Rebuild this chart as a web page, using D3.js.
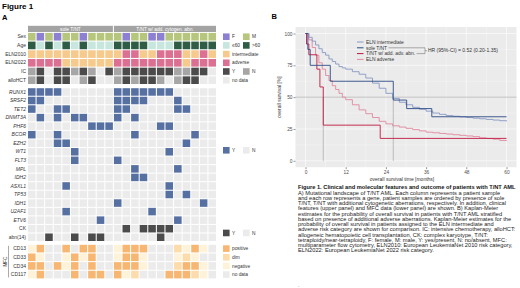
<!DOCTYPE html>
<html lang="en">
<head>
<meta charset="utf-8"/>
<title>Figure 1 - T/NT AML</title>
<script src="https://d3js.org/d3.v7.min.js"></script>
<style>
body { margin: 0; background: #fff; }
text { font-family: "Liberation Sans", Arial, Helvetica, sans-serif; }
</style>
</head>
<body>
<script>
// ---- data: panel A (22 patients, first 10 sole T/NT) ----
var groupNames = ["sole T/NT", "T/NT w/ add. cytogen. abn."];
var groupSizes = [10, 12];

var clinRows = ["Sex", "Age", "ELN2010", "ELN2022", "IC", "alloHCT"];
var sex     = ["M","F","M","F","M","M","F","M","M","M", "M","F","M","M","F","F","M","M","M","M","M","M"];
var age     = [">60","≤60",">60","≤60",">60","≤60",">60","≤60","≤60","≤60", ">60",">60",">60",">60","≤60","≤60","≤60",">60",">60",">60",">60",">60"];
var eln2010 = ["int","int","int","int","int","int","int","int","int","int", "int","adv","adv","int","int","adv","adv","adv","int","int","adv","int"];
var eln2022 = ["adv","adv","adv","adv","int","int","int","int","int","int", "adv","adv","adv","adv","adv","adv","adv","adv","int","adv","adv","adv"];
var ic      = ["N","Y","ND","Y","Y","N","Y","N","ND","Y", "N","Y","Y","Y","Y","Y","Y","N","N","Y","Y","ND"];
var allo    = ["N","Y","ND","Y","Y","ND","N","Y","ND","ND", "N","Y","N","Y","Y","N","ND","N","Y","Y","ND","ND"];

var genes = ["RUNX1","SRSF2","TET2","DNMT3A","PHF6","BCOR","EZH2","WT1","FLT3","MPL","IDH2","ASXL1","TP53","IDH1","U2AF1","ETV6"];
var geneMut = [
  [0,1,2,3,10,11,12,13,14,15,16],
  [0,1,10,11,12,13,17],
  [0,3,4,10,11,17,18],
  [1,3,5,6,10,12],
  [7,8,9,15,16],
  [0,3,12,19],
  [3,4,18],
  [5,16],
  [5,10],
  [12,17],
  [12,13],
  [4,16],
  [16,18],
  [10,20],
  [4,14],
  [8,17]
];
var cytoRows = ["CK", "abn(14)"];
var cytoPos = [
  [11,13,14,15,16],
  [2,5,7,8,15]
];

var mfcRows = ["CD13", "CD33", "CD34", "CD117"];
var cd13  = ["neg","pos","nd","nd","pos","nd","pos","pos","nd","nd", "neg","pos","pos","pos","nd","nd","nd","dim","neg","pos","neg","nd"];
var cd33  = ["pos","neg","nd","nd","neg","pos","neg","pos","nd","nd", "neg","pos","pos","neg","nd","nd","nd","neg","dim","neg","nd","nd"];
var cd34  = ["pos","pos","nd","pos","neg","pos","nd","pos","nd","nd", "pos","pos","pos","neg","nd","nd","nd","dim","pos","pos","neg","nd"];
var cd117 = ["neg","pos","nd","nd","nd","pos","nd","pos","pos","nd", "pos","neg","dim","nd","nd","nd","pos","pos","pos","dim","neg","nd"];

// ---- data: panel B (Kaplan-Meier, months / % surviving) ----
var kmNames = ["ELN intermediate", "sole T/NT", "T/NT w/ add. adv. abn.", "ELN adverse"];
var intT = [0,1,2,3,4,5,6,7,8,9,10,11,12,14,16,18,20,22,24,26,28,30,32,34,36,38,40,42,44,46,48,50,52,54,56,58,60];
var intS = [100,97,94,91,88,85,83,80,78,76,74,73,72,70,68,65,61,57,53,49,46,44,42,40.5,39,37.5,36.5,35.5,35,34.5,34,33.5,33,32.5,32,31.5,31];
var soleT = [0,0.7,1.4,7.4,26.2,30.2,37.7,60];
var soleS = [100,87.5,75,62.5,47.7,41,34.6,34.6];
var addT = [0,0.3,1.0,3.4,4.3,5.3,22.3,60];
var addS = [100,91.7,83.3,72,58,28,17.6,17.6];
var advT = [0,1,2,3,4,5,6,7,8,9,10,11,12,14,16,18,20,22,24,26,28,30,32,34,36,38,40,42,44,46,48,50,52,54,56,58,60];
var advS = [100,95,89,83,77,72,67,63,59,56,53,50,48,44,40,37,34,31,29,27.5,26.5,25.5,24.5,23.5,22.5,22,21.5,21,20.5,20,19.5,19,18,17.5,17,16,15.5];
var medians = [5.3, 26.2];
var hrText = "HR (95%-CI) = 0.52 (0.20-1.35)";

var captionTitle = "Figure 1. Clinical and molecular features and outcome of patients with T/NT AML";
var captionLines = [
  "A) Mutational landscape of T/NT  AML. Each column represents a patient sample",
  "and each row represents a gene, patient samples are ordered by presence of sole",
  "T/NT, T/NT with additional cytogenetic aberrations, respectively. In addition, clinical",
  "features (upper panel) and MFC data (lower panel) are shown. B) Kaplan-Meier",
  "estimates for the probability of overall survival in patients with T/NT AML stratified",
  "based on presence of additional adverse aberrations. Kaplan-Meier estimates for the",
  "probability of overall survival in patients assigned to the ELN intermediate and",
  "adverse risk category are shown for comparison. IC: intensive chemotherapy, alloHCT:",
  "allogeneic hematopoietic cell transplantation, CK: complex karyotype, T/NT:",
  "tetraploidy/near-tetraploidy, F: female, M: male, Y: yes/present,  N: no/absent, MFC:",
  "multiparameter flow cytometry, ELN2010: European LeukemiaNet 2010 risk category,",
  "ELN2022: European LeukemiaNet 2022 risk category."
];

// ---- drawing ----
var svg = d3.select("body").append("svg")
  .attr("width", 520).attr("height", 288);

var clinColor = d3.scaleOrdinal()
  .domain(["F","M","≤60",">60","int","adv","Y","N","ND"])
  .range(["#8d80d2","#b6c67c","#c7e6de","#2f5c45","#f6c98c","#dc7092","#4b4b4b","#a6a6a6","#ebebeb"]);
var mfcColor = d3.scaleOrdinal()
  .domain(["pos","dim","neg","nd"])
  .range(["#f7b772","#fcdcab","#fef2d9","#ebebeb"]);
var mutColor = "#5670a2";
var emptyColor = "#ebebeb";
var textCol = "#333";

svg.append("text").attr("x", 2).attr("y", 9).attr("font-size", 8).attr("font-weight", "bold").text("Figure 1");
svg.append("text").attr("x", 2).attr("y", 19.5).attr("font-size", 7.5).attr("font-weight", "bold").text("A");
svg.append("text").attr("x", 271.5).attr("y", 18.5).attr("font-size", 7.5).attr("font-weight", "bold").text("B");

var cols = d3.scaleBand().domain(d3.range(22)).range([28, 216]).paddingInner(0.12);
var yClin = d3.scaleBand().domain(clinRows).range([32.9, 84]).paddingInner(0.12);
var geneRows = genes.concat(cytoRows);
var yGene = d3.scaleBand().domain(geneRows).range([88.2, 241]).paddingInner(0.12);
var yMfc = d3.scaleBand().domain(mfcRows).range([244.8, 278.4]).paddingInner(0.12);

// group header bars
var start = 0;
groupSizes.forEach(function (n, g) {
  var x0 = cols(start), x1 = cols(start + n - 1) + cols.bandwidth();
  svg.append("rect").attr("x", x0).attr("y", 25.8).attr("width", x1 - x0).attr("height", 6.2).attr("fill", "#a3a3a3");
  svg.append("text").attr("x", (x0 + x1) / 2).attr("y", 30.6).attr("text-anchor", "middle")
    .attr("font-size", 4.8).attr("fill", "#fff").text(groupNames[g]);
  start += n;
});

function drawRow(scale, name, values, colorFn, italic) {
  svg.append("g").selectAll("rect").data(values).enter().append("rect")
    .attr("x", function (d, i) { return cols(i); })
    .attr("y", scale(name))
    .attr("width", cols.bandwidth())
    .attr("height", scale.bandwidth())
    .attr("fill", colorFn);
  svg.append("text").attr("x", 26).attr("y", scale(name) + scale.bandwidth() / 2 + 1.7)
    .attr("text-anchor", "end").attr("font-size", 5).attr("fill", textCol)
    .attr("font-style", italic ? "italic" : "normal").text(name);
}

var clinValues = [sex, age, eln2010, eln2022, ic, allo];
clinRows.forEach(function (r, k) { drawRow(yClin, r, clinValues[k], clinColor, false); });

genes.forEach(function (gname, k) {
  var vals = d3.range(22).map(function (i) { return geneMut[k].indexOf(i) >= 0 ? "Y" : "N"; });
  drawRow(yGene, gname, vals, function (d) { return d === "Y" ? mutColor : emptyColor; }, true);
});
cytoRows.forEach(function (cname, k) {
  var vals = d3.range(22).map(function (i) { return cytoPos[k].indexOf(i) >= 0 ? "Y" : "N"; });
  drawRow(yGene, cname, vals, function (d) { return d === "Y" ? clinColor("Y") : emptyColor; }, false);
});

var mfcValues = [cd13, cd33, cd34, cd117];
mfcRows.forEach(function (r, k) { drawRow(yMfc, r, mfcValues[k], mfcColor, false); });

// MFC side label
var mfcTop = yMfc(mfcRows[0]), mfcBot = yMfc(mfcRows[3]) + yMfc.bandwidth();
svg.append("line").attr("x1", 8.5).attr("x2", 8.5).attr("y1", mfcTop + 1).attr("y2", mfcBot - 1)
  .attr("stroke", "#555").attr("stroke-width", 0.5);
svg.append("text").attr("transform", "translate(6.5," + (mfcTop + mfcBot) / 2 + ") rotate(-90)")
  .attr("text-anchor", "middle").attr("font-size", 4.6).attr("fill", textCol).text("MFC");

// legends for panel A
var sw = 6.6;
function legendItem(x, yc, color, label) {
  svg.append("rect").attr("x", x).attr("y", yc - sw / 2).attr("width", sw).attr("height", sw).attr("fill", color);
  svg.append("text").attr("x", x + sw + 2.4).attr("y", yc + 1.7).attr("font-size", 4.8).attr("fill", textCol).text(label);
}
function mid(scale, name) { return scale(name) + scale.bandwidth() / 2; }
legendItem(223, mid(yClin, "Sex"), clinColor("F"), "F");
legendItem(243, mid(yClin, "Sex"), clinColor("M"), "M");
legendItem(223, mid(yClin, "Age"), clinColor("≤60"), "≤60");
legendItem(243, mid(yClin, "Age"), clinColor(">60"), ">60");
legendItem(223, mid(yClin, "ELN2010"), clinColor("int"), "intermediate");
legendItem(223, mid(yClin, "ELN2022"), clinColor("adv"), "adverse");
legendItem(223, mid(yClin, "IC"), clinColor("Y"), "Y");
legendItem(243, mid(yClin, "IC"), clinColor("N"), "N");
legendItem(223, mid(yClin, "alloHCT"), clinColor("ND"), "no data");

legendItem(223, mid(yGene, "WT1") - 1.5, mutColor, "Y");
legendItem(243, mid(yGene, "WT1") - 1.5, emptyColor, "N");
var cyMid = (mid(yGene, "CK") + mid(yGene, "abn(14)")) / 2;
legendItem(223, cyMid, clinColor("Y"), "Y");
legendItem(243, cyMid, emptyColor, "N");

legendItem(223, mid(yMfc, "CD13"), mfcColor("pos"), "positive");
legendItem(223, mid(yMfc, "CD33"), mfcColor("dim"), "dim");
legendItem(223, mid(yMfc, "CD34"), mfcColor("neg"), "negative");
legendItem(223, mid(yMfc, "CD117"), mfcColor("nd"), "no data");

// ---- panel B ----
var x = d3.scaleLinear().domain([0, 60]).range([305.5, 506.5]);
var y = d3.scaleLinear().domain([0, 100]).range([160.8, 33.5]);
var px0 = 295.5, px1 = 516.5, py0 = 27, py1 = 167.2;

svg.append("rect").attr("x", px0).attr("y", py0).attr("width", px1 - px0).attr("height", py1 - py0).attr("fill", "#ebebeb");
var xMajor = [0, 12, 24, 36, 48, 60], yMajor = [0, 25, 50, 75, 100];
var xMinor = [6, 18, 30, 42, 54], yMinor = [12.5, 37.5, 62.5, 87.5];
var grid = svg.append("g").attr("stroke", "#fff");
grid.selectAll(".xmin").data(xMinor).enter().append("line")
  .attr("x1", x).attr("x2", x).attr("y1", py0).attr("y2", py1).attr("stroke-width", 0.3);
grid.selectAll(".ymin").data(yMinor).enter().append("line")
  .attr("y1", y).attr("y2", y).attr("x1", px0).attr("x2", px1).attr("stroke-width", 0.3);
grid.selectAll(".xmaj").data(xMajor).enter().append("line")
  .attr("x1", x).attr("x2", x).attr("y1", py0).attr("y2", py1).attr("stroke-width", 0.6);
grid.selectAll(".ymaj").data(yMajor).enter().append("line")
  .attr("y1", y).attr("y2", y).attr("x1", px0).attr("x2", px1).attr("stroke-width", 0.6);

// median reference lines
svg.append("line").attr("x1", px0).attr("x2", px1).attr("y1", y(50)).attr("y2", y(50))
  .attr("stroke", "#9a9a9a").attr("stroke-width", 0.6);
svg.selectAll(".med").data(medians).enter().append("line")
  .attr("x1", x).attr("x2", x).attr("y1", y(50)).attr("y2", y(0))
  .attr("stroke", "#9a9a9a").attr("stroke-width", 0.6);

var kmColor = d3.scaleOrdinal().domain(kmNames).range(["#8798c2", "#2b4a85", "#c0173f", "#e0899f"]);
var kmData = [[intT, intS], [soleT, soleS], [addT, addS], [advT, advS]];
var line = d3.line().x(function (d) { return x(d[0]); }).y(function (d) { return y(d[1]); }).curve(d3.curveStepAfter);
var drawOrder = [3, 0, 2, 1];
drawOrder.forEach(function (k) {
  var pts = kmData[k][0].map(function (t, i) { return [t, kmData[k][1][i]]; });
  svg.append("path").attr("d", line(pts)).attr("fill", "none")
    .attr("stroke", kmColor(kmNames[k])).attr("stroke-width", 0.9);
});

// axes
var axL = svg.append("g").attr("transform", "translate(" + px0 + ",0)")
  .call(d3.axisLeft(y).tickValues(yMajor).tickSize(2).tickPadding(1));
var axB = svg.append("g").attr("transform", "translate(0," + py1 + ")")
  .call(d3.axisBottom(x).tickValues(xMajor).tickSize(2).tickPadding(1.5));
[axL, axB].forEach(function (a) {
  a.select(".domain").remove();
  a.selectAll("line").attr("stroke", "#333").attr("stroke-width", 0.5);
  a.selectAll("text").attr("font-size", 4.8).attr("fill", "#4d4d4d")
    .attr("font-family", "'Liberation Sans', Arial, sans-serif");
});
svg.append("text").attr("x", 402).attr("y", 181).attr("text-anchor", "middle")
  .attr("font-size", 5).attr("fill", textCol).text("overall survival time [months]");
svg.append("text").attr("transform", "translate(281," + (py0 + py1) / 2 + ") rotate(-90)")
  .attr("text-anchor", "middle").attr("font-size", 5).attr("fill", textCol).text("overall survival [%]");

// KM legend + hazard ratio bracket
var legY = [42, 47.8, 53.6, 59.4];
var legEnds = [];
kmNames.forEach(function (nm, k) {
  svg.append("line").attr("x1", 357).attr("x2", 363.5).attr("y1", legY[k]).attr("y2", legY[k])
    .attr("stroke", kmColor(nm)).attr("stroke-width", 1);
  var t = svg.append("text").attr("x", 366).attr("y", legY[k] + 1.7).attr("font-size", 4.9)
    .attr("fill", textCol).text(nm);
  legEnds.push(366 + t.node().getComputedTextLength());
});
var bx = 425;
svg.append("path").attr("fill", "none").attr("stroke", "#555").attr("stroke-width", 0.45)
  .attr("d", "M" + (legEnds[1] + 1.5) + "," + legY[1] + "H" + bx + "V" + legY[2] + "H" + (legEnds[2] + 1.5)
    + "M" + bx + "," + (legY[1] + legY[2]) / 2 + "h2");
svg.append("text").attr("x", bx + 3).attr("y", (legY[1] + legY[2]) / 2 + 1.7).attr("font-size", 5)
  .attr("fill", textCol).text(hrText);

// caption
svg.append("text").attr("x", 298).attr("y", 189.2).attr("font-size", 5.7).attr("font-weight", "bold")
  .attr("fill", "#111").text(captionTitle);
svg.append("g").selectAll("text").data(captionLines).enter().append("text")
  .attr("x", 298).attr("y", function (d, i) { return 194.5 + i * 5.25; })
  .attr("font-size", 5.7).attr("fill", "#222").text(function (d) { return d; });
svg.append("text").attr("x", 298).attr("y", 287).attr("font-size", 5).attr("fill", "#666").text(".");
</script>
</body>
</html>
